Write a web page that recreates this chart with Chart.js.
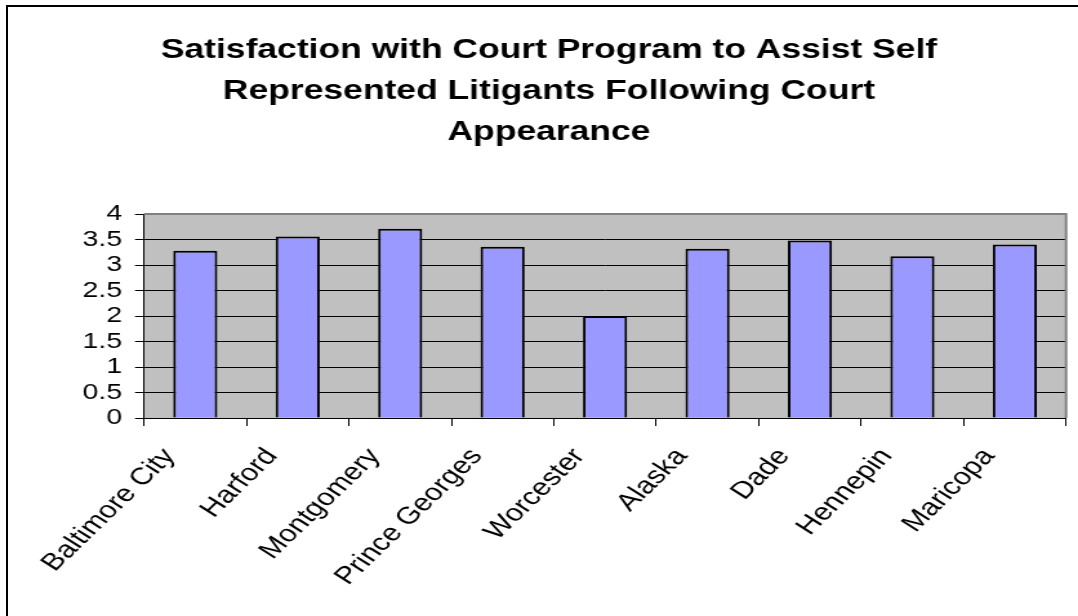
<!DOCTYPE html>
<html>
<head>
<meta charset="utf-8">
<script src="https://cdn.jsdelivr.net/npm/chart.js@4/dist/chart.umd.min.js"></script>
<style>
  html, body { margin: 0; padding: 0; background: #fff; }
  body { width: 1078px; height: 616px; overflow: hidden; position: relative; }
  #stretch { position: absolute; left: 0; top: 0; width: 836px; height: 616px; transform: scaleX(1.2895); transform-origin: 0 0; }
  #frame { position: absolute; left: 6px; top: 5px; width: 1200px; height: 800px; border-left: 2px solid #000; border-top: 2px solid #000; pointer-events: none; }
</style>
</head>
<body>
<div id="stretch"><canvas id="c" width="836" height="616"></canvas></div>
<div id="frame"></div>
<script>
const titleLines = ['Satisfaction with Court Program to Assist Self', 'Represented Litigants Following Court', 'Appearance'];
const categories = ['Baltimore City', 'Harford', 'Montgomery', 'Prince Georges', 'Worcester', 'Alaska', 'Dade', 'Hennepin', 'Maricopa'];
const satisfaction = [3.28, 3.56, 3.71, 3.36, 2.0, 3.32, 3.48, 3.17, 3.40];
const yMin = 0, yMax = 4, yStep = 0.5;

Chart.defaults.font.family = "'Liberation Sans', Arial, sans-serif";
Chart.defaults.color = '#000';

const plotFrame = {
  id: 'plotFrame',
  beforeDraw(chart) {
    const a = chart.chartArea, ctx = chart.ctx;
    ctx.save();
    ctx.fillStyle = '#c0c0c0';
    ctx.fillRect(a.left, a.top, a.right - a.left, a.bottom - a.top);
    ctx.restore();
  },
  beforeDatasetsDraw(chart) {
    const a = chart.chartArea, ctx = chart.ctx;
    ctx.save();
    ctx.strokeStyle = '#808080';
    ctx.lineWidth = 2;
    ctx.beginPath();
    ctx.moveTo(a.left, a.top);
    ctx.lineTo(a.right, a.top);
    ctx.lineTo(a.right, a.bottom);
    ctx.stroke();
    ctx.restore();
  }
};

new Chart(document.getElementById('c'), {
  type: 'bar',
  data: {
    labels: categories,
    datasets: [{
      data: satisfaction,
      backgroundColor: '#9999ff',
      borderColor: '#000',
      borderWidth: 2,
      barPercentage: 0.43,
      categoryPercentage: 1.0
    }]
  },
  options: {
    responsive: false,
    devicePixelRatio: 1,
    animation: false,
    layout: { padding: { left: 24.7, right: 9.3, top: 0, bottom: 0 } },
    plugins: {
      legend: { display: false },
      tooltip: { enabled: false },
      title: {
        display: true,
        text: titleLines,
        color: '#000',
        font: { size: 27.5, weight: 'bold', lineHeight: 41 / 27.5 },
        padding: { top: 29.5, bottom: 61.5 }
      }
    },
    scales: {
      x: {
        grid: { display: true, drawOnChartArea: false, offset: true, tickLength: 8, color: '#000', lineWidth: 1 },
        border: { display: true, color: '#000', width: 1 },
        ticks: { minRotation: 51, maxRotation: 51, autoSkip: false, font: { size: 24 }, padding: 17, labelOffset: -20, color: '#000' },
        afterFit(scale) { scale.height = 198; }
      },
      y: {
        min: yMin, max: yMax,
        grid: { color: '#000', lineWidth: 1, tickLength: 7 },
        border: { display: true, color: '#000', width: 1 },
        ticks: { stepSize: yStep, autoSkip: false, font: { size: 22 }, padding: 10, color: '#000',
                 callback: (v) => String(v) },
        afterFit(scale) { scale.width = 87; }
      }
    }
  },
  plugins: [plotFrame]
});
</script>
</body>
</html>
